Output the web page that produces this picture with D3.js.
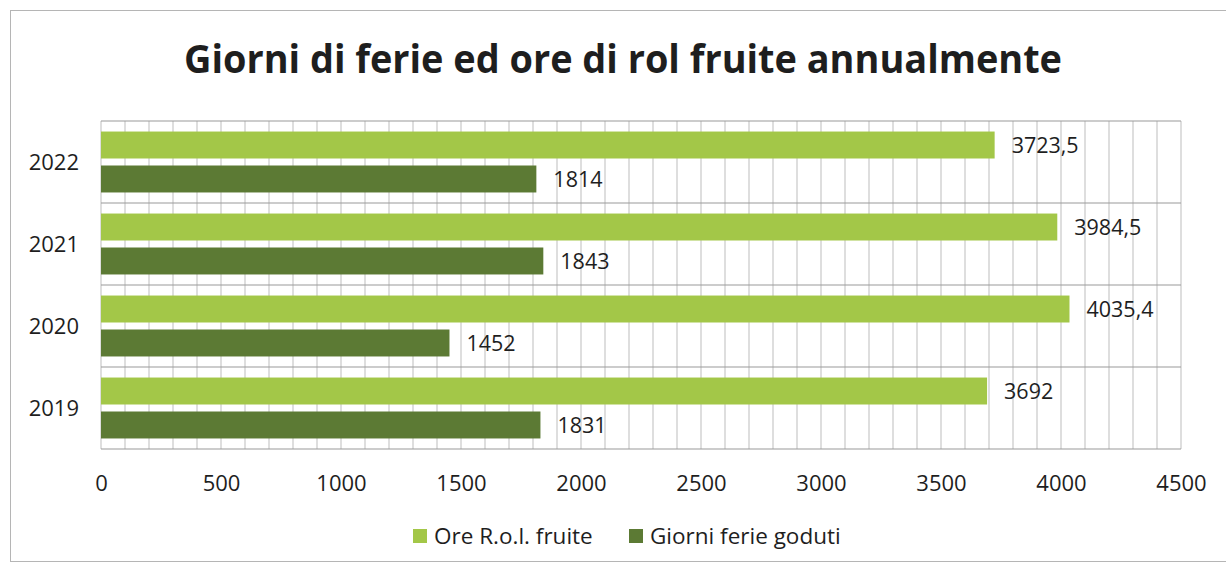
<!DOCTYPE html>
<html>
<head>
<meta charset="utf-8">
<script src="https://cdn.jsdelivr.net/npm/d3@7"></script>
<style>
  body { margin: 0; background: #fff; }
  svg { font-family: "Open Sans", "Noto Sans", sans-serif; }
</style>
</head>
<body>
<svg width="1226" height="567"></svg>
<script>
// data
var years = ["2019", "2020", "2021", "2022"];
var seriesNames = ["Ore R.o.l. fruite", "Giorni ferie goduti"];
var oreRol = [3692, 4035.4, 3984.5, 3723.5];
var giorniFerie = [1831, 1452, 1843, 1814];
var xTicks = [0, 500, 1000, 1500, 2000, 2500, 3000, 3500, 4000, 4500];

var colors = ["#a3c748", "#5c7a34"];

var svg = d3.select("svg"),
  width = +svg.attr("width"),
  height = +svg.attr("height");

var margin = {left: 101, right: 1181, top: 121, bottom: 449};

// outer frame
svg.append("rect")
  .attr("x", 10.5).attr("y", 10.5)
  .attr("width", 1240).attr("height", 551)
  .attr("fill", "none").attr("stroke", "#b5b5b5");

// title
svg.append("text")
  .attr("x", 623).attr("y", 73)
  .attr("text-anchor", "middle")
  .attr("font-size", 40).attr("font-weight", "bold")
  .attr("fill", "#1e1e1e")
  .attr("textLength", 878).attr("lengthAdjust", "spacingAndGlyphs")
  .text("Giorni di ferie ed ore di rol fruite annualmente");

var x = d3.scaleLinear().domain([0, 4500]).range([margin.left, margin.right]);
var y = d3.scaleBand().domain(years.slice().reverse()).range([margin.top, margin.bottom]);
var ySub = d3.scaleBand().domain(seriesNames).range([0, y.bandwidth()])
  .paddingInner(0.206).paddingOuter(0.31);

// grid
svg.append("g").selectAll("line")
  .data(d3.range(0, 4501, 100))
  .enter().append("line")
    .attr("x1", function(d) { return x(d); })
    .attr("x2", function(d) { return x(d); })
    .attr("y1", margin.top).attr("y2", margin.bottom)
    .attr("stroke", "#bdbdbd").attr("stroke-width", 1);

var bounds = years.map(function(d) { return y(d); }).concat([margin.bottom]);
svg.append("g").selectAll("line")
  .data(bounds)
  .enter().append("line")
    .attr("x1", margin.left).attr("x2", margin.right)
    .attr("y1", function(d) { return d; })
    .attr("y2", function(d) { return d; })
    .attr("stroke", "#9a9a9a").attr("stroke-width", 1.2);

// bars
var rows = [];
years.forEach(function(yr, i) {
  rows.push({year: yr, s: seriesNames[0], v: oreRol[i], c: colors[0]});
  rows.push({year: yr, s: seriesNames[1], v: giorniFerie[i], c: colors[1]});
});

var fmt = function(v) { return String(v).replace(".", ","); };

svg.append("g").selectAll("rect")
  .data(rows)
  .enter().append("rect")
    .attr("x", x(0))
    .attr("y", function(d) { return y(d.year) + ySub(d.s); })
    .attr("width", function(d) { return x(d.v) - x(0); })
    .attr("height", ySub.bandwidth())
    .attr("fill", function(d) { return d.c; });

svg.append("g").selectAll("text")
  .data(rows)
  .enter().append("text")
    .attr("x", function(d) { return x(d.v) + 17; })
    .attr("y", function(d) { return y(d.year) + ySub(d.s) + ySub.bandwidth() / 2; })
    .attr("dy", "0.35em")
    .attr("font-size", 21.5)
    .attr("fill", "#1e1e1e")
    .text(function(d) { return fmt(d.v); });

// y labels
svg.append("g").selectAll("text")
  .data(years)
  .enter().append("text")
    .attr("x", 79)
    .attr("y", function(d) { return y(d) + y.bandwidth() / 2; })
    .attr("dy", "0.35em")
    .attr("text-anchor", "end")
    .attr("font-size", 22)
    .attr("fill", "#1e1e1e")
    .text(function(d) { return d; });

// x axis
var xAxis = svg.append("g")
  .attr("transform", "translate(0," + 475 + ")")
  .call(d3.axisBottom(x).tickValues(xTicks).tickFormat(d3.format("d")).tickSize(0).tickPadding(0));
xAxis.select(".domain").remove();
xAxis.selectAll("text")
  .attr("font-size", 22)
  .attr("font-family", "Open Sans, Noto Sans, sans-serif")
  .attr("fill", "#1e1e1e");

// legend
var legendX = [413, 629];
var leg = svg.append("g").selectAll("g")
  .data(seriesNames)
  .enter().append("g")
    .attr("transform", function(d, i) { return "translate(" + legendX[i] + ",529)"; });
leg.append("rect")
  .attr("width", 14).attr("height", 14)
  .attr("fill", function(d, i) { return colors[i]; });
leg.append("text")
  .attr("x", 21).attr("y", 7).attr("dy", "0.35em")
  .attr("font-size", 22.5)
  .attr("fill", "#1e1e1e")
  .text(function(d) { return d; });
</script>
</body>
</html>
